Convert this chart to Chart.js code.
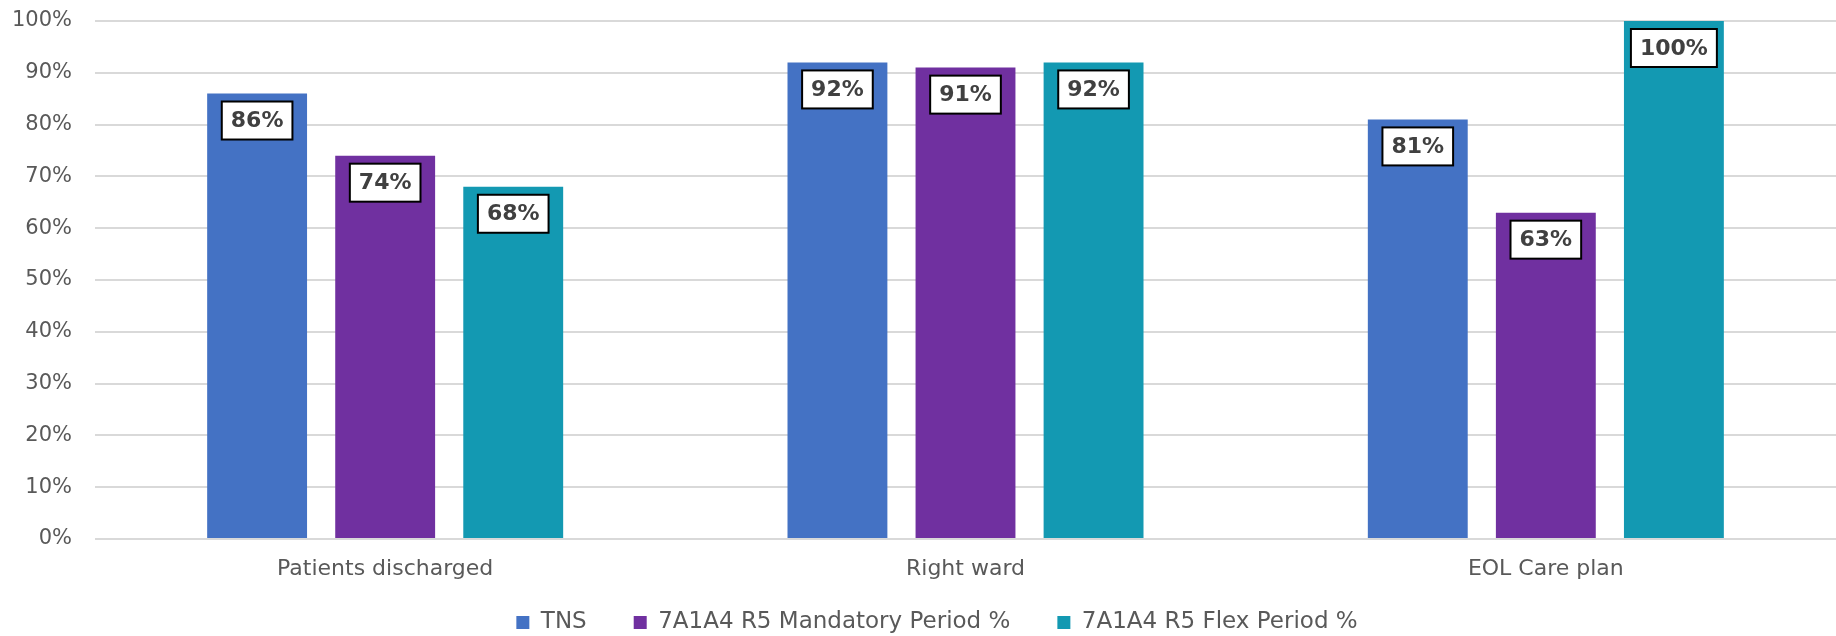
<!DOCTYPE html>
<html>
<head>
<meta charset="utf-8">
<script src="https://cdn.jsdelivr.net/npm/chart.js@4/dist/chart.umd.min.js"></script>
<style>
    body { margin: 0; background: #ffffff; }
    #wrap { width: 1836px; height: 636px; position: relative; }
</style>
</head>
<body>
<div id="wrap"><canvas id="barChart"></canvas></div>
<script>
// -------------------- DATA --------------------
const categories = ["Patients discharged", "Right ward", "EOL Care plan"];
const seriesNames = ["TNS", "7A1A4 R5 Mandatory Period %", "7A1A4 R5 Flex Period %"];
const tnsValues = [86, 92, 81];
const mandatoryValues = [74, 91, 63];
const flexValues = [68, 92, 100];
const yTickValues = [0, 10, 20, 30, 40, 50, 60, 70, 80, 90, 100];

// -------------------- COLORS --------------------
const seriesColors = ["#4472C4", "#7030A0", "#1399B2"];
const textGrey = "#595959";
const fontFamily = "'DejaVu Sans', sans-serif";

// -------------------- VALUE BOXES --------------------
const valueBoxPlugin = {
    id: "valueBoxPlugin",

    afterDatasetsDraw(chart) {
        const { ctx } = chart;
        ctx.save();
        ctx.font = "bold 22px " + fontFamily;
        ctx.textAlign = "center";
        ctx.textBaseline = "middle";

        chart.data.datasets.forEach((ds, di) => {
            const meta = chart.getDatasetMeta(di);
            meta.data.forEach((bar, i) => {
                const label = ds.data[i] + "%";
                const w = ctx.measureText(label).width + 18;
                const h = 38;
                const top = bar.y + 8;

                ctx.fillStyle = "#ffffff";
                ctx.fillRect(bar.x - w / 2, top, w, h);
                ctx.lineWidth = 2;
                ctx.strokeStyle = "#000000";
                ctx.strokeRect(bar.x - w / 2, top, w, h);

                ctx.fillStyle = "#404040";
                ctx.fillText(label, bar.x, top + h / 2 + 1);
            });
        });

        ctx.restore();
    }
};

// -------------------- LEGEND PLACEMENT --------------------
// legend padding doubles as item spacing, so trim its box and move it down
const legendFitPlugin = {
    id: "legendFitPlugin",
    beforeInit(chart) {
        const legend = chart.legend;
        if (!legend) return;
        const origFit = legend.fit;
        legend.fit = function () {
            origFit.call(this);
            this.height = 50;
        };
    },
    afterLayout(chart) {
        const legend = chart.legend;
        if (!legend) return;
        legend.top = chart.height - 72;
        legend.bottom = legend.top + 72;
        legend.left += 19;
        legend.right += 19;
    }
};

// -------------------- BUILD CHART --------------------
const el = document.getElementById("barChart");

new Chart(el, {
    type: "bar",
    plugins: [legendFitPlugin, valueBoxPlugin],
    data: {
        labels: categories,
        datasets: [tnsValues, mandatoryValues, flexValues].map((vals, i) => ({
            label: seriesNames[i],
            data: vals,
            backgroundColor: seriesColors[i],
            categoryPercentage: 0.662,
            barPercentage: 0.78
        }))
    },
    options: {
        responsive: true,
        maintainAspectRatio: false,
        animation: false,
        layout: {
            padding: { top: 21, right: 0, bottom: 0, left: 0 }
        },
        plugins: {
            legend: {
                position: "bottom",
                labels: {
                    boxWidth: 13,
                    boxHeight: 13,
                    padding: 47,
                    color: textGrey,
                    font: { family: fontFamily, size: 23 }
                }
            },
            tooltip: { enabled: false }
        },
        scales: {
            x: {
                grid: { display: false, drawTicks: false },
                border: { display: false },
                ticks: {
                    color: textGrey,
                    padding: 17,
                    font: { family: fontFamily, size: 22 }
                },
                afterFit(scale) {
                    scale.height = 47;
                }
            },
            y: {
                min: 0,
                max: 100,
                grid: {
                    color: "#D9D9D9",
                    lineWidth: 2,
                    drawTicks: true,
                    tickLength: 23,
                    tickColor: "rgba(0,0,0,0)"
                },
                border: { display: false },
                afterBuildTicks(scale) {
                    scale.ticks = yTickValues.map(v => ({ value: v }));
                },
                ticks: {
                    color: textGrey,
                    padding: 0,
                    font: { family: fontFamily, size: 21 },
                    callback: v => v + "%"
                },
                afterFit(scale) {
                    scale.width = 95;
                }
            }
        }
    }
});
</script>
</body>
</html>
